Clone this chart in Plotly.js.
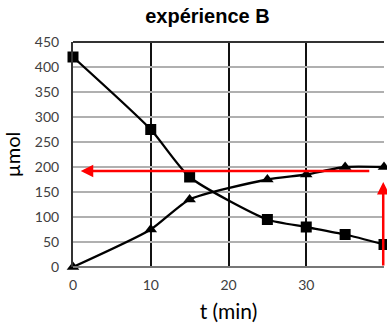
<!DOCTYPE html>
<html>
<head>
<meta charset="utf-8">
<script src="https://cdn.plot.ly/plotly-3.0.1.min.js"></script>
<style>html,body{margin:0;padding:0;background:#fff;}#chart{width:387px;height:324px;}</style>
</head>
<body>
<div id="chart"></div>
<script>
const tSquares = [0, 10, 15, 25, 30, 35, 40];
const valSquares = [420, 275, 180, 95, 80, 65, 45];
const tTriangles = [0, 10, 15, 25, 30, 35, 40];
const valTriangles = [0, 75, 135, 175, 185, 200, 200];
const xTicks = [0, 10, 20, 30, 40];
const yTicks = [0, 50, 100, 150, 200, 250, 300, 350, 400, 450];
// red arrows: [tailX, tailY, headX, headY]
const arrowHoriz = [38.3, 192, 1.0, 192];
const arrowVert = [39.9, 0, 39.9, 170];

const tickFont = {family: 'Lato, "Open Sans", sans-serif', size: 14, color: '#404040'};

const traces = [
  {x: tSquares, y: valSquares, mode: 'lines+markers', line: {color: '#000', width: 2.3, shape: 'spline', smoothing: 0.6},
   marker: {symbol: 'square', size: 11, color: '#000'}, cliponaxis: false, hoverinfo: 'none'},
  {x: tTriangles, y: valTriangles, mode: 'lines+markers', line: {color: '#000', width: 2.3, shape: 'spline', smoothing: 0.6},
   marker: {symbol: 'triangle-up', size: 11, color: '#000'}, cliponaxis: false, hoverinfo: 'none'}
];

function arrow(a) {
  return {x: a[2], y: a[3], ax: a[0], ay: a[1], xref: 'x', yref: 'y', axref: 'x', ayref: 'y',
    showarrow: true, arrowhead: 2, arrowsize: 1, arrowwidth: 2.5, arrowcolor: '#ff0000', text: ''};
}

const layout = {
  width: 387, height: 324,
  margin: {l: 73, r: 3, t: 42, b: 57},
  paper_bgcolor: '#fff', plot_bgcolor: '#fff',
  showlegend: false,
  title: {text: 'expérience B', font: {family: '"Liberation Sans", Arial, sans-serif', size: 20, color: '#000', weight: 'bold'},
          x: 0.536, xanchor: 'center', y: 0.95, yanchor: 'middle'},
  xaxis: {range: [0, 40], tickvals: xTicks, ticktext: xTicks.map(String), showgrid: true, gridcolor: '#111', gridwidth: 2,
          zeroline: false, showline: false, ticks: '', tickfont: tickFont, ticklabelstandoff: 8,
          title: {text: 't (min)', font: {family: 'Lato, "Open Sans", sans-serif', size: 21, color: '#000'}, standoff: 12}},
  yaxis: {range: [0, 450], tickvals: yTicks, ticktext: yTicks.map(String), showgrid: true, gridcolor: '#b0b0b0', gridwidth: 2,
          zeroline: false, showline: true, linecolor: '#333', linewidth: 2, ticks: '', tickfont: tickFont, ticklabelstandoff: 9,
          title: {text: 'µmol', font: {family: 'Lato, "Open Sans", sans-serif', size: 20, color: '#000'}, standoff: 10}},
  shapes: [
    {type: 'line', xref: 'paper', yref: 'paper', x0: 0, x1: 1, y0: 1, y1: 1, line: {color: '#333', width: 2}},
    {type: 'line', xref: 'paper', yref: 'paper', x0: 0, x1: 1, y0: 0, y1: 0, line: {color: '#777', width: 2}}
  ],
  annotations: [arrow(arrowHoriz), arrow(arrowVert)]
};

Plotly.newPlot('chart', traces, layout, {displayModeBar: false, staticPlot: true});
</script>
</body>
</html>
